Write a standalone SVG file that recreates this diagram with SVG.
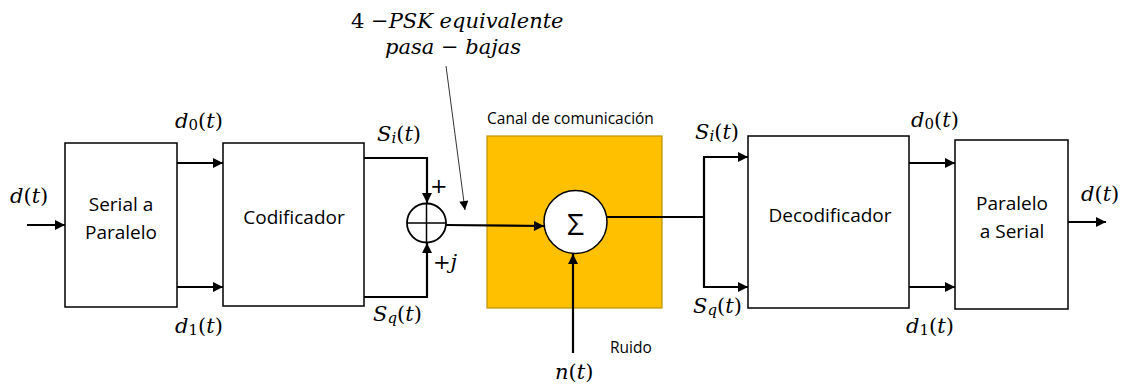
<svg xmlns="http://www.w3.org/2000/svg" width="1125" height="385" viewBox="0 0 1125 385">
<style>
.box{fill:#fff;stroke:#000;stroke-width:1.5}
.ln{fill:none;stroke:#000;stroke-width:2.2}
.thin{fill:none;stroke:#000;stroke-width:0.8}
.lbl{font-family:"Open Sans","Noto Sans",sans-serif;font-size:19px;fill:#000;text-anchor:middle;dominant-baseline:central}
.sm{font-family:"Open Sans","Noto Sans",sans-serif;font-size:15.5px;fill:#000;dominant-baseline:central}
.m{font-family:"DejaVu Serif","Liberation Serif",serif;font-style:italic;font-size:21px;fill:#000;dominant-baseline:central}
.mu{font-style:normal}
.sub{font-size:15px}
</style>
<defs>
<marker id="ah" viewBox="0 0 10 10" refX="10" refY="5" markerWidth="11" markerHeight="10" markerUnits="userSpaceOnUse" orient="auto"><path d="M0,0L10,5L0,10z" fill="#000"/></marker>
<marker id="ahs" viewBox="0 0 10 10" refX="10" refY="5" markerWidth="10" markerHeight="9" markerUnits="userSpaceOnUse" orient="auto"><path d="M0,0L10,5L0,10z" fill="#000"/></marker>
</defs>

<g id="canal">
<rect x="487" y="136" width="175" height="172" fill="#FFC000" stroke="#BF9000" stroke-width="1.2"/>
<text class="sm" x="487" y="118">Canal de comunicación</text>
</g>

<g id="connectors">
<path class="ln" d="M27,225H65" marker-end="url(#ah)"/>
<path class="ln" d="M177,163H223" marker-end="url(#ah)"/>
<path class="ln" d="M177,287H223" marker-end="url(#ah)"/>
<path class="ln" d="M364,158H427V203" marker-end="url(#ah)"/>
<path class="ln" d="M364,297H427V243" marker-end="url(#ah)"/>
<path class="ln" d="M446,225L544,226" marker-end="url(#ah)"/>
<path class="ln" d="M573,353V254" marker-end="url(#ah)"/>
<path class="ln" d="M607,217H704V157M704,217V287"/>
<path class="ln" d="M703,157H748" marker-end="url(#ah)"/>
<path class="ln" d="M703,287H748" marker-end="url(#ah)"/>
<path class="ln" d="M909,163H955" marker-end="url(#ah)"/>
<path class="ln" d="M909,287H955" marker-end="url(#ah)"/>
<path class="ln" d="M1068,222H1106" marker-end="url(#ah)"/>
<path class="thin" d="M446,66L465,210" marker-end="url(#ahs)"/>
</g>

<g id="serial-paralelo">
<rect class="box" x="65" y="143" width="112" height="164"/>
<text class="lbl" x="121" y="204">Serial a</text>
<text class="lbl" x="121" y="232">Paralelo</text>
</g>

<g id="codificador">
<rect class="box" x="223" y="143" width="141" height="163"/>
<text class="lbl" x="294" y="217">Codificador</text>
</g>

<g id="sumador-iq">
<circle cx="426.5" cy="223" r="19.5" fill="#fff" stroke="#000" stroke-width="1.8"/>
<path d="M407,223H446M426.5,203.5V242.5" stroke="#000" stroke-width="1.5"/>
</g>

<g id="sigma">
<circle cx="575.5" cy="222" r="31.5" fill="#fff" stroke="#000" stroke-width="1.5"/>
<text class="lbl" x="575.5" y="223" style="font-size:30px">Σ</text>
</g>

<g id="decodificador">
<rect class="box" x="748" y="136" width="161" height="172"/>
<text class="lbl" x="830" y="215">Decodificador</text>
</g>

<g id="paralelo-serial">
<rect class="box" x="955" y="140" width="113" height="169"/>
<text class="lbl" x="1012" y="203">Paralelo</text>
<text class="lbl" x="1012" y="231">a Serial</text>
</g>

<g id="labels">
<text class="m" x="10" y="196">d<tspan class="mu">(</tspan>t<tspan class="mu">)</tspan></text>
<text class="m" x="175" y="121">d<tspan class="mu sub" dy="4">0</tspan><tspan class="mu" dy="-4">(</tspan>t<tspan class="mu">)</tspan></text>
<text class="m" x="175" y="326">d<tspan class="mu sub" dy="4">1</tspan><tspan class="mu" dy="-4">(</tspan>t<tspan class="mu">)</tspan></text>
<text class="m" x="377" y="134">S<tspan class="sub" dy="4">i</tspan><tspan class="mu" dy="-4">(</tspan>t<tspan class="mu">)</tspan></text>
<text class="m" x="373" y="314">S<tspan class="sub" dy="4">q</tspan><tspan class="mu" dy="-4">(</tspan>t<tspan class="mu">)</tspan></text>
<text class="m" x="430" y="186" style="font-style:normal">+</text>
<text class="m" x="433" y="262"><tspan class="mu">+</tspan>j</text>
<text class="m" x="351" y="21"><tspan class="mu">4 −</tspan>PSK equivalente</text>
<text class="m" x="385" y="47">pasa <tspan class="mu">−</tspan> bajas</text>
<text class="sm" x="610" y="347">Ruido</text>
<text class="m" x="555" y="372">n<tspan class="mu">(</tspan>t<tspan class="mu">)</tspan></text>
<text class="m" x="695" y="132">S<tspan class="sub" dy="4">i</tspan><tspan class="mu" dy="-4">(</tspan>t<tspan class="mu">)</tspan></text>
<text class="m" x="693" y="306">S<tspan class="sub" dy="4">q</tspan><tspan class="mu" dy="-4">(</tspan>t<tspan class="mu">)</tspan></text>
<text class="m" x="911" y="120">d<tspan class="mu sub" dy="4">0</tspan><tspan class="mu" dy="-4">(</tspan>t<tspan class="mu">)</tspan></text>
<text class="m" x="906" y="326">d<tspan class="mu sub" dy="4">1</tspan><tspan class="mu" dy="-4">(</tspan>t<tspan class="mu">)</tspan></text>
<text class="m" x="1081" y="194">d<tspan class="mu">(</tspan>t<tspan class="mu">)</tspan></text>
</g>
</svg>
